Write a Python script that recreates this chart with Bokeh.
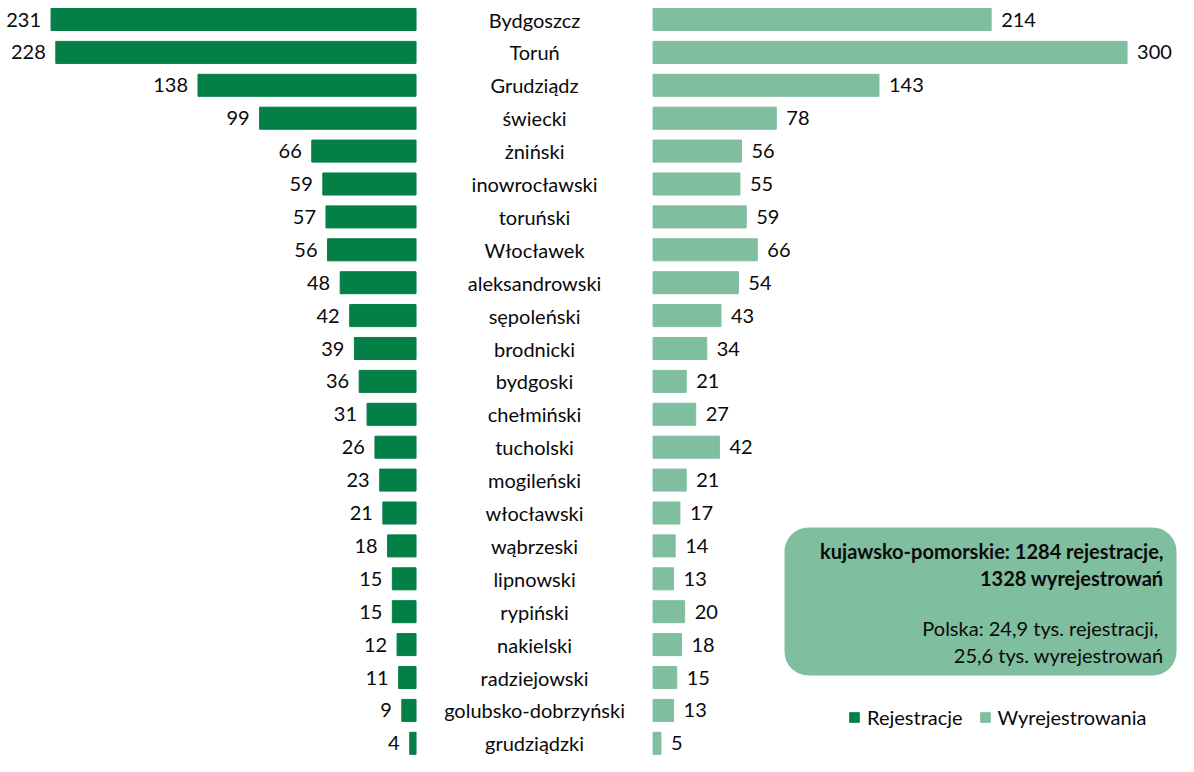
from bokeh.plotting import figure
from bokeh.models import ColumnDataSource, Range1d, BoxAnnotation, Legend, LegendItem, Label
from bokeh.core.properties import value
from bokeh.embed import file_html
from bokeh.resources import INLINE

regions = ["Bydgoszcz", "Toruń", "Grudziądz", "świecki", "żniński", "inowrocławski",
           "toruński", "Włocławek", "aleksandrowski", "sępoleński", "brodnicki", "bydgoski",
           "chełmiński", "tucholski", "mogileński", "włocławski", "wąbrzeski", "lipnowski",
           "rypiński", "nakielski", "radziejowski", "golubsko-dobrzyński", "grudziądzki"]
rejestracje = [231, 228, 138, 99, 66, 59, 57, 56, 48, 42, 39, 36, 31, 26, 23, 21, 18, 15, 15, 12, 11, 9, 4]
wyrejestrowania = [214, 300, 143, 78, 56, 55, 59, 66, 54, 43, 34, 21, 27, 42, 21, 17, 14, 13, 20, 18, 15, 13, 5]

box_title = ["kujawsko-pomorskie: 1284 rejestracje,", "1328 wyrejestrowań"]
box_note = ["Polska:  24,9 tys. rejestracji,", "25,6 tys. wyrejestrowań"]

DARK = "#047F45"
LIGHT = "#7FBE9E"
FONT = "Lato"
TXT = "#0a0a0a"

W, H = 1178, 756
GAP = 150          # width of the centre label column, in value units
KX = 1.58          # px per unit
x_start = -263.0
x_end = x_start + W / KX

n = len(regions)
ys = list(range(n))
row_px = 32.9
top_px = 19
y_top = -top_px / row_px
y_bot = y_top + H / row_px

src = ColumnDataSource(dict(
    y=ys,
    region=regions,
    rej=rejestracje,
    wyr=wyrejestrowania,
    rej_left=[-v for v in rejestracje],
    zero=[0] * n,
    wyr_start=[GAP] * n,
    wyr_end=[GAP + v for v in wyrejestrowania],
    mid=[GAP / 2] * n,
    rej_txt=[str(v) for v in rejestracje],
    wyr_txt=[str(v) for v in wyrejestrowania],
))

p = figure(width=W, height=H, output_backend="svg", toolbar_location=None,
           x_range=Range1d(x_start, x_end), y_range=Range1d(y_bot, y_top),
           min_border=0, outline_line_color=None)
p.axis.visible = False
p.grid.visible = False
p.background_fill_color = "white"
p.border_fill_color = "white"

r1 = p.hbar(y="y", left="rej_left", right="zero", height=0.67, color=DARK, source=src)
r2 = p.hbar(y="y", left="wyr_start", right="wyr_end", height=0.67, color=LIGHT, source=src)

p.text(x="rej_left", y="y", text="rej_txt", source=src, x_offset=-10,
       text_align="right", text_baseline="middle", text_font=value(FONT),
       text_font_size="20px", text_color=TXT)
p.text(x="wyr_end", y="y", text="wyr_txt", source=src, x_offset=10,
       text_align="left", text_baseline="middle", text_font=value(FONT),
       text_font_size="20px", text_color=TXT)
p.text(x="mid", y="y", text="region", source=src,
       text_align="center", text_baseline="middle", text_font=value(FONT),
       text_font_size="20px", text_color=TXT)

# annotation box (screen units)
box = BoxAnnotation(left=784, right=1176, top=H - 527, bottom=H - 675,
                    left_units="screen", right_units="screen",
                    top_units="screen", bottom_units="screen",
                    fill_color=LIGHT, fill_alpha=1.0, line_color=None,
                    border_radius=24, level="underlay")
p.add_layout(box)

tx = 1163
for i, t in enumerate(box_title):
    p.add_layout(Label(x=tx, y=H - 550 - i * 27, x_units="screen", y_units="screen",
                       text=t, text_align="right", text_baseline="middle",
                       text_font=FONT, text_font_size="20px", text_font_style="bold",
                       text_color=TXT))
for i, t in enumerate(box_note):
    p.add_layout(Label(x=tx, y=H - 627 - i * 27, x_units="screen", y_units="screen",
                       text=t, text_align="right", text_baseline="middle",
                       text_font=FONT, text_font_size="20px",
                       text_color=TXT))

legend = Legend(items=[LegendItem(label="Rejestracje", renderers=[r1]),
                       LegendItem(label="Wyrejestrowania", renderers=[r2])],
                orientation="horizontal", location=(848, 27),
                background_fill_alpha=0, border_line_color=None,
                label_text_font=FONT, label_text_font_size="20px",
                label_text_color=TXT,
                glyph_width=12, glyph_height=12, spacing=16, label_standoff=7,
                padding=0, margin=0)
p.add_layout(legend, "center")

open("out.html", "w").write(file_html(p, INLINE))
